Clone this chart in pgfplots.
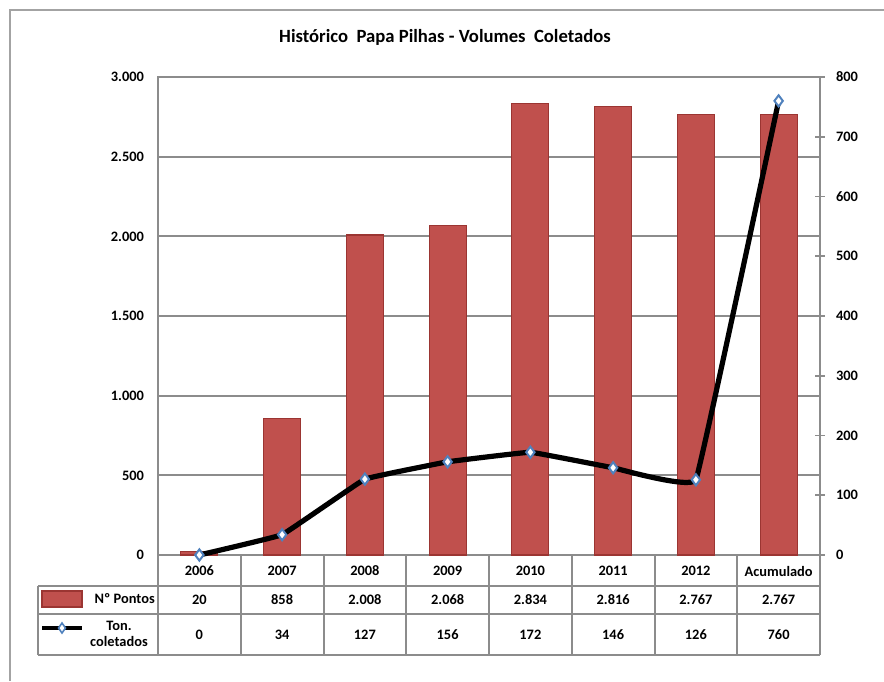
\documentclass[border=0pt]{standalone}
\usepackage{pgfplots}
\pgfplotsset{compat=1.18}
\usepackage{fontspec}
\setmainfont{Carlito}
\definecolor{barred}{HTML}{C0504D}
\definecolor{baredge}{HTML}{9B3532}
\definecolor{gridgray}{HTML}{8C8C8C}
\definecolor{mkblue}{HTML}{4F81BD}
\newcommand\lbl{\bfseries\fontsize{10.8}{12}\selectfont}

\begin{document}
\begin{tikzpicture}
\useasboundingbox (0,0) rectangle (663pt,-510.75pt);

% bars, left axis
\begin{axis}[
  at={(118.5pt,-416.25pt)}, anchor=south west,
  scale only axis, width=496.5pt, height=358.5pt,
  xmin=-0.5, xmax=7.5, ymin=0, ymax=3000,
  xtick=\empty, ytick={0,500,...,3000},
  scaled y ticks=false,
  /pgf/number format/1000 sep={.},
  /pgf/number format/assume math mode=true,
  ymajorgrids, grid style={gridgray, line width=1.3pt},
  axis line style={gridgray, line width=1.3pt},
  ytick style={draw=none},
  yticklabel style={font=\lbl, xshift=-7pt},
]
\addplot[ybar, bar width=27.75pt, fill=barred, draw=baredge, line width=0.9pt]
  coordinates {(0,20) (1,858) (2,2008) (3,2068) (4,2834) (5,2816) (6,2767) (7,2767)};
\end{axis}

% line, right axis
\begin{axis}[
  at={(118.5pt,-416.25pt)}, anchor=south west,
  scale only axis, width=496.5pt, height=358.5pt,
  xmin=-0.5, xmax=7.5, ymin=0, ymax=800,
  ytick={0,100,...,800},
  axis y line*=right, axis x line=none,
  y axis line style={gridgray, line width=1.3pt, -},
  ytick style={gridgray, line width=1.3pt},
  tick align=center, major tick length=7pt,
  /pgf/number format/assume math mode=true,
  yticklabel style={font=\lbl, xshift=5pt},
  clip=false,
]
\addplot[black, line width=3.9pt, smooth, tension=0.1, mark=diamond*, mark size=4.2pt,
  mark options={fill=white, draw=mkblue, line width=1.5pt}]
  coordinates {(0,0) (1,34) (2,127) (3,156) (4,172) (5,146) (6,126) (7,760)};
\end{axis}

\begin{scope}[x=0.75pt,y=-0.75pt]
\draw[gridgray!80, line width=2.2pt] (10,681) -- (10,10) -- (884,10);
\node[font=\bfseries\fontsize{14}{16}\selectfont] at (445,37) {Histórico \ Papa Pilhas - Volumes \ Coletados};
% data table
\begin{scope}[gridgray, line width=1.5pt]
\foreach \k in {0,...,8} \draw ({158+82.75*\k},555) -- ({158+82.75*\k},655);
\draw (38,586) -- (820,586);
\draw (38,614) -- (820,614);
\draw (38,655) -- (820,655);
\draw (38,586) -- (38,655);
\end{scope}
\foreach \t [count=\i from 0] in {2006,2007,2008,2009,2010,2011,2012,Acumulado}
  \node[font=\lbl] at ({158+82.75*(\i+0.5)},571) {\t};
\foreach \t [count=\i from 0] in {20,858,2.008,2.068,2.834,2.816,2.767,2.767}
  \node[font=\lbl] at ({158+82.75*(\i+0.5)},600) {\t};
\foreach \t [count=\i from 0] in {0,34,127,156,172,146,126,760}
  \node[font=\lbl] at ({158+82.75*(\i+0.5)},635) {\t};
% legend
\draw[fill=barred, draw=baredge, line width=0.8pt] (42,591) rectangle (82,607);
\node[font=\lbl, anchor=east, inner sep=0pt] at (155,599) {Nº Pontos};
\draw[black, line width=2.8pt] (42,628) -- (82,628);
\draw[draw=mkblue, fill=white, line width=1.2pt] (62,623) -- (65.5,628) -- (62,633) -- (58.5,628) -- cycle;
\node[font=\lbl, align=center, inner sep=0pt] at (119,634) {Ton.\\coletados};
\end{scope}
\end{tikzpicture}
\end{document}
